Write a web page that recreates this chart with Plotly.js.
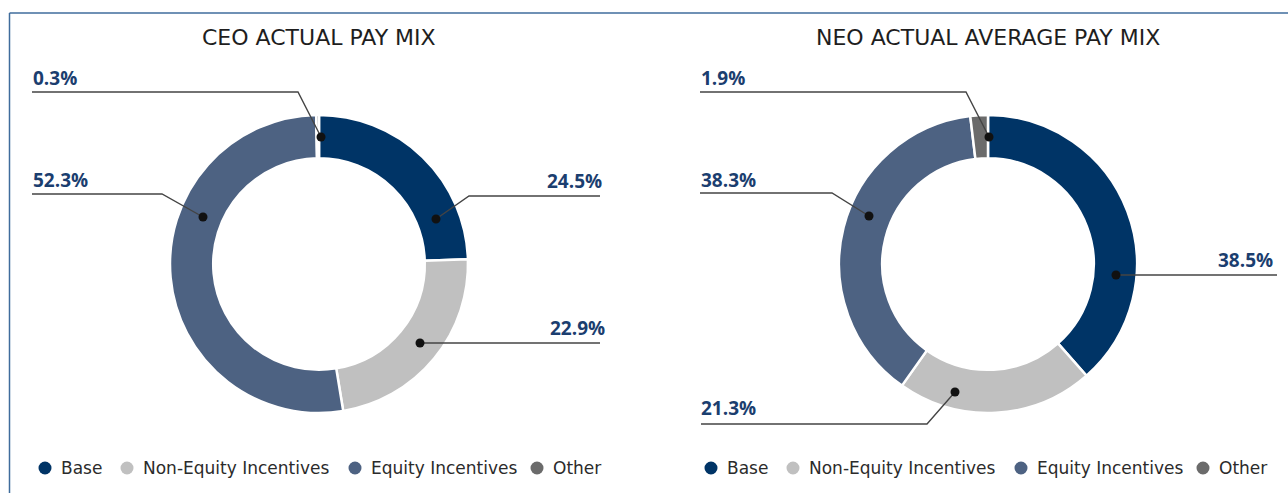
<!DOCTYPE html>
<html>
<head>
<meta charset="utf-8">
<script src="https://cdn.plot.ly/plotly-3.0.1.min.js"></script>
<style>
  html, body { margin: 0; padding: 0; background: #ffffff; }
  #chart { width: 1288px; height: 493px; }
</style>
</head>
<body>
<div id="chart"></div>
<script>
// ---------------- DATA ----------------
const categories = ['Base', 'Non-Equity Incentives', 'Equity Incentives', 'Other'];
const ceoValues = [24.5, 22.9, 52.3, 0.3];
const neoValues = [38.5, 21.3, 38.3, 1.9];
const chartTitles = ['CEO ACTUAL PAY MIX', 'NEO ACTUAL AVERAGE PAY MIX'];

// ---------------- STYLE / LAYOUT ----------------
const W = 1288, H = 493;
const sliceColors = ['#003466', '#c0c0c0', '#4d6282', '#6b6b6b'];
const labelColor = '#1b3e6f';
const fontFamily = '"Open Sans", "Noto Sans", Arial, sans-serif';
const wideFont = '"DejaVu Sans", "Open Sans", Arial, sans-serif';

const charts = [
  { values: ceoValues, title: chartTitles[0], cx: 319, cy: 264, R: 149, legendX: 45,
    leaders: [
      { tx: 604, ty: 181, align: 'right', pts: [[600,196],[469,196],[436,219]] },
      { tx: 607, ty: 328, align: 'right', pts: [[600,343],[420,343]] },
      { tx: 31,  ty: 180, align: 'left',  pts: [[32,194],[162,194],[203,217]] },
      { tx: 31,  ty: 78,  align: 'left',  pts: [[32,92],[298,92],[321,137]] }
    ] },
  { values: neoValues, title: chartTitles[1], cx: 988, cy: 264, R: 149, legendX: 711,
    leaders: [
      { tx: 1275, ty: 260, align: 'right', pts: [[1277,275],[1116,275]] },
      { tx: 699,  ty: 408, align: 'left',  pts: [[701,424],[927,424],[955,392]] },
      { tx: 699,  ty: 180, align: 'left',  pts: [[700,193],[832,193],[869,216]] },
      { tx: 699,  ty: 78,  align: 'left',  pts: [[700,92],[966,92],[989,137]] }
    ] }
];
const legendOffsets = [0, 82, 310, 492];

const px = x => x / W;
const py = y => 1 - y / H;

const traces = [];
const shapes = [];
const annotations = [];

// Frame lines (top and left)
shapes.push({ type: 'line', xref: 'paper', yref: 'paper', x0: px(9.5), x1: 1, y0: py(13), y1: py(13),
  line: { color: '#3f6c9c', width: 1.5 } });
shapes.push({ type: 'line', xref: 'paper', yref: 'paper', x0: px(9.5), x1: px(9.5), y0: py(13), y1: 0,
  line: { color: '#3f6c9c', width: 1.5 } });

charts.forEach((c, ci) => {
  traces.push({
    type: 'pie',
    labels: categories,
    values: c.values,
    sort: false,
    direction: 'clockwise',
    rotation: 0,
    hole: 0.71,
    textinfo: 'none',
    hoverinfo: 'label+percent',
    showlegend: false,
    marker: { colors: sliceColors, line: { color: '#ffffff', width: 2.5 } },
    domain: { x: [px(c.cx - c.R), px(c.cx + c.R)], y: [py(c.cy + c.R), py(c.cy - c.R)] }
  });

  // title
  annotations.push({ xref: 'paper', yref: 'paper', x: px(c.cx), y: py(37), xanchor: 'center', yanchor: 'middle',
    showarrow: false, text: c.title, font: { family: wideFont, size: 22, color: '#1e1e1e' } });

  // leader labels
  c.leaders.forEach((l, i) => {
    annotations.push({ xref: 'paper', yref: 'paper', x: px(l.tx), y: py(l.ty), xanchor: l.align, yanchor: 'middle',
      showarrow: false, text: c.values[i].toFixed(1) + '%',
      font: { family: fontFamily, size: 19, color: labelColor, weight: 'bold' } });
    const p = l.pts;
    let d = 'M' + px(p[0][0]) + ',' + py(p[0][1]);
    for (let k = 1; k < p.length; k++) d += ' L' + px(p[k][0]) + ',' + py(p[k][1]);
    shapes.push({ type: 'path', xref: 'paper', yref: 'paper', path: d, line: { color: '#444444', width: 1.4 } });
    const dot = p[p.length - 1];
    shapes.push({ type: 'circle', xref: 'paper', yref: 'paper', xsizemode: 'pixel', ysizemode: 'pixel',
      xanchor: px(dot[0]), yanchor: py(dot[1]), x0: -4.5, x1: 4.5, y0: -4.5, y1: 4.5,
      fillcolor: '#111111', line: { color: '#111111', width: 0 } });
  });

  // legend
  categories.forEach((cat, i) => {
    const dx = c.legendX + legendOffsets[i];
    shapes.push({ type: 'circle', xref: 'paper', yref: 'paper', xsizemode: 'pixel', ysizemode: 'pixel',
      xanchor: px(dx), yanchor: py(468), x0: -6.5, x1: 6.5, y0: -6.5, y1: 6.5,
      fillcolor: sliceColors[i], line: { width: 0 } });
    annotations.push({ xref: 'paper', yref: 'paper', x: px(dx + 14), y: py(468), xanchor: 'left', yanchor: 'middle',
      showarrow: false, text: cat, font: { family: wideFont, size: 17, color: '#2b2b2b' } });
  });
});

const layout = {
  width: W, height: H,
  margin: { l: 0, r: 0, t: 0, b: 0 },
  paper_bgcolor: '#ffffff',
  plot_bgcolor: '#ffffff',
  showlegend: false,
  shapes: shapes,
  annotations: annotations
};

Plotly.newPlot('chart', traces, layout, { displayModeBar: false, staticPlot: false });
</script>
</body>
</html>
